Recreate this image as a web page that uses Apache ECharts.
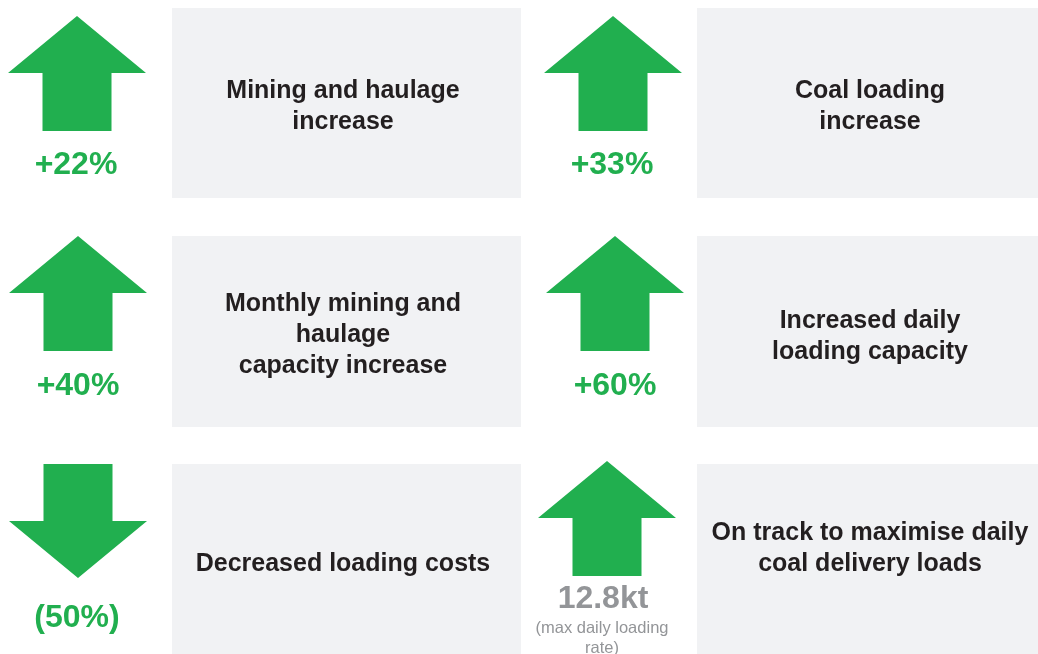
<!DOCTYPE html>
<html>
<head>
<meta charset="utf-8">
<title>Operational highlights</title>
<script src="https://cdn.jsdelivr.net/npm/echarts@6/dist/echarts.min.js"></script>
<style>
  html, body { margin: 0; padding: 0; background: #ffffff; }
  #chart { width: 1038px; height: 654px; }
</style>
</head>
<body>
<div id="chart"></div>
<script>
// values shown on each card
const metrics = ['+22%', '+33%', '+40%', '+60%', '(50%)', '12.8kt']
const directions = ['up', 'up', 'up', 'up', 'down', 'up']
const descriptions = [
  'Mining and haulage\nincrease',
  'Coal loading\nincrease',
  'Monthly mining and\nhaulage\ncapacity increase',
  'Increased daily\nloading capacity',
  'Decreased loading costs',
  'On track to maximise daily\ncoal delivery loads'
]
const notes = ['', '', '', '', '', '(max daily loading\nrate)']

// card layout (pixel space of the 1038x654 frame)
// box: [x0, y0, x1, y1], arrow: [centerX, topY], label: [x, y], text: [x, y]
const layout = [
  { box: [172, 8, 521, 198], arrow: [77, 16], label: [76, 165.5], text: [343, 107], color: '#21AF4F' },
  { box: [697, 8, 1038, 198], arrow: [613, 16], label: [612, 165.5], text: [870, 107], color: '#21AF4F' },
  { box: [172, 236, 521, 427], arrow: [78, 236], label: [78, 386.5], text: [343, 335.5], color: '#21AF4F' },
  { box: [697, 236, 1038, 427], arrow: [615, 236], label: [615, 386.5], text: [870, 336.5], color: '#21AF4F' },
  { box: [172, 464, 521, 654], arrow: [78, 464], label: [77, 618], text: [343, 564], color: '#21AF4F' },
  { box: [697, 464, 1038, 654], arrow: [607, 461], label: [603, 599.5], text: [870, 548.5], color: '#939598', note: [602, 638.5] }
]

const arrowColor = '#21AF4F'
const headHalf = 69
const shaftHalf = 34.5
const headH = 57
const arrowH = 115

const chart = echarts.init(document.getElementById('chart'))

function renderCard(params, api) {
  const i = params.dataIndex
  const L = layout[i]
  const p0 = api.coord([L.box[0], L.box[1]])
  const p1 = api.coord([L.box[2], L.box[3]])
  const cx = L.arrow[0]
  const t = L.arrow[1]
  let pts
  if (directions[i] === 'up') {
    pts = [
      [cx, t], [cx + headHalf, t + headH], [cx + shaftHalf, t + headH],
      [cx + shaftHalf, t + arrowH], [cx - shaftHalf, t + arrowH],
      [cx - shaftHalf, t + headH], [cx - headHalf, t + headH]
    ]
  } else {
    pts = [
      [cx - shaftHalf, t], [cx + shaftHalf, t], [cx + shaftHalf, t + headH],
      [cx + headHalf, t + headH], [cx, t + arrowH - 1],
      [cx - headHalf, t + headH], [cx - shaftHalf, t + headH]
    ]
  }
  const lab = api.coord(L.label)
  const txt = api.coord(L.text)
  const children = [
    {
      type: 'rect',
      shape: { x: p0[0], y: p0[1], width: p1[0] - p0[0], height: p1[1] - p0[1] },
      style: { fill: '#F1F2F4' }
    },
    {
      type: 'polygon',
      shape: { points: pts.map(p => api.coord(p)) },
      style: { fill: arrowColor }
    },
    {
      type: 'text',
      style: {
        text: metrics[i], x: lab[0], y: lab[1],
        align: 'center', verticalAlign: 'middle',
        fill: L.color, fontFamily: '"Liberation Sans", Arial, sans-serif',
        fontWeight: 'bold', fontSize: 32
      }
    },
    {
      type: 'text',
      style: {
        text: descriptions[i], x: txt[0], y: txt[1],
        align: 'center', verticalAlign: 'middle', lineHeight: 31,
        fill: '#231F20', fontFamily: '"Liberation Sans", Arial, sans-serif',
        fontWeight: 'bold', fontSize: 25
      }
    }
  ]
  if (notes[i]) {
    const np = api.coord(L.note)
    children.push({
      type: 'text',
      style: {
        text: notes[i], x: np[0], y: np[1],
        align: 'center', verticalAlign: 'middle', lineHeight: 20,
        fill: '#939598', fontFamily: '"Liberation Sans", Arial, sans-serif',
        fontSize: 16.5
      }
    })
  }
  return { type: 'group', children }
}

chart.setOption({
  animation: false,
  backgroundColor: '#ffffff',
  grid: { left: 0, right: 0, top: 0, bottom: 0 },
  xAxis: { type: 'value', min: 0, max: 1038, show: false },
  yAxis: { type: 'value', min: 0, max: 654, inverse: true, show: false },
  series: [{
    type: 'custom',
    renderItem: renderCard,
    data: metrics.map((m, i) => [i]),
    clip: false
  }]
})
</script>
</body>
</html>
